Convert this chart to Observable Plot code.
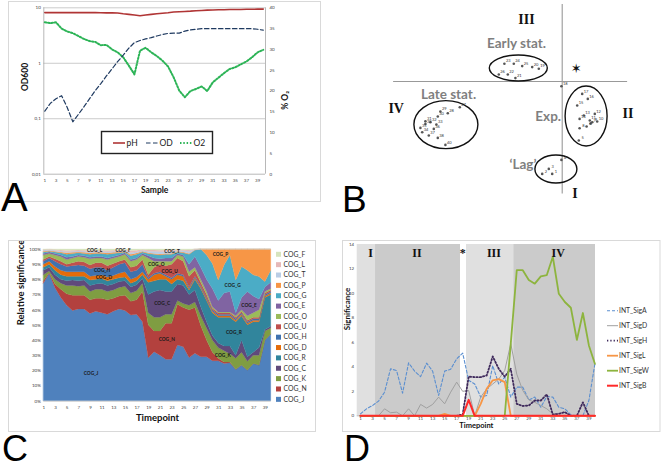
<!DOCTYPE html>
<html><head><meta charset="utf-8">
<script src="https://cdn.jsdelivr.net/npm/d3@7"></script>
<script src="https://cdn.jsdelivr.net/npm/@observablehq/plot@0.6"></script>
<style>
body{margin:0;background:#fff;}
#root{position:relative;width:661px;height:469px;overflow:hidden;background:#fff;}
#root > svg{position:absolute;}
</style></head><body><div id="root"></div>
<script>
// ---------- shared ----------
const timepoints = [1,2,3,4,5,6,7,8,9,10,11,12,13,14,15,16,17,18,19,20,21,22,23,24,25,26,27,28,29,30,31,32,33,34,35,36,37,38,39,40];
const oddTicks = [1,3,5,7,9,11,13,15,17,19,21,23,25,27,29,31,33,35,37,39];

// ---------- Panel A ----------
const phValues = [8.2,8.2,8.2,8.2,8.2,8.2,8.2,8.2,8.2,8.2,8.15,8.1,8.1,8.05,7.8,7.6,7.4,7.17,7.4,7.6,7.8,8.0,8.15,8.4,8.5,8.6,8.7,8.85,8.95,9.07,9.12,9.2,9.25,9.3,9.3,9.33,9.4,9.42,9.45,9.47];
const odValues = [0.137,0.19,0.23,0.26,0.16,0.088,0.12,0.165,0.23,0.32,0.43,0.59,0.79,1.07,1.4,1.87,2.36,2.57,2.75,2.9,3.1,3.3,3.45,3.5,3.5,3.8,4.0,4.1,4.2,4.2,4.2,4.2,4.2,4.2,4.2,4.2,4.2,4.2,4.1,3.95];
const o2Values = [36.5,36.3,36.5,35,34.3,33.9,33.2,32.5,32,31.8,31,31.1,30,29.3,28.1,26.1,24,29.7,30.4,29.3,28.4,27.3,25.9,23.3,20.1,18.5,20,20.5,21.1,20,22.1,23.2,24.3,25.3,25.7,26.4,27.1,28.1,29.3,29.9];
const odTicks = [10,1,0.1,0.01];
const odTickLabels = ["10","1","0,1","0,01"];
const o2Ticks = [0,5,10,15,20,25,30,35,40];
const aLegendNames = ["pH","OD","O2"];

// ---------- Panel B ----------
const bSampleIds = [1,2,3,4,5,6,7,8,9,10,11,12,13,14,15,16,17,18,19,20,21,22,23,24,25,26,27,28,29,30,31,32,33,34,35,36,37,38,39,40];
const bPC1 = [-0.5,-1.0,-0.67,-0.04,0.83,1.22,1.42,0.87,1.5,1.75,1.38,1.63,1.08,0.87,0.75,1.28,1.0,-0.04,-1.17,-1.5,-2.34,-2.72,-2.89,-2.42,-2.0,-3.17,-5.12,-5.72,-6.09,-6.22,-6.84,-6.59,-6.29,-7.0,-7.09,-6.42,-6.67,-6.22,-6.84,-5.84];
const bPC2 = [-4.62,-4.62,-4.37,-3.92,-2.95,-2.25,-2.1,-2.34,-2.04,-2.0,-1.95,-1.62,-1.7,-1.87,-1.2,-0.87,-0.62,-0.24,0.64,0.72,0.17,0.35,0.89,0.89,0.77,0.35,-1.29,-1.59,-1.5,-1.75,-1.99,-2.04,-2.15,-2.54,-2.32,-2.37,-2.7,-2.82,-2.12,-3.17];
const clusterNames = ["Early stat.","Late stat.","Exp.","\u2018Lag\u2019"];
const clusterCx = [-2.17,-5.79,1.22,-0.29];
const clusterCy = [0.65,-2.18,-1.75,-4.4];
const clusterRx = [1.45,1.6,1.05,1.05];
const clusterRy = [0.65,1.2,1.5,0.7];
const clusterLabelX = [-2.285,-5.685,-0.7,-1.96];
const clusterLabelY = [1.885,-0.665,-1.735,-4.165];
const phaseNumerals = ["III","IV","II","I"];
const phaseNumX = [-1.785,-8.3,3.29,0.64];
const phaseNumY = [3.1,-1.35,-1.6,-5.625];

// ---------- Panel C ----------
const cogNames = ["COG_J","COG_N","COG_K","COG_C","COG_R","COG_D","COG_H","COG_U","COG_O","COG_E","COG_G","COG_P","COG_T","COG_L","COG_F"];
const cogColors = ["#4F81BD","#B3413E","#7F9D42","#604A7B","#31859C","#E46C0A","#3F72AF","#C0504D","#9BBB59","#8064A2","#4BACC6","#F79646","#B9CDE5","#E6B9B8","#D7E4BD"];
// upper boundary (cumulative %) of each stacked layer
const topJ = [77.5,84,74.5,68,63,59.5,60.5,60.5,57.5,59,58,57,59,60.5,59.5,56.5,57,52,28.3,32.3,30,27.3,27.3,36.7,35.6,28.4,31.2,29,29,26.4,26.4,24.6,25,20.7,23.5,20.2,24.6,23.5,40,44];
const topN = [79,84.5,77,73.5,70.5,69.5,69.5,69.5,66.5,67.5,67.5,66.5,67.5,69,69.5,65.5,66.5,72,50,46,46,51,51,63.5,61.5,60,61.5,49.5,40,32,28,25.5,25.5,20.7,23.5,20.2,24.6,23.5,40,44];
const topK = [83,85.5,80,77.5,76,76,75.5,76,72,73.5,73.5,72,73,74.7,75.5,71,72.5,77.5,58,55,55,57,57,66,64,63,65,56,48,40,35,33,31,28,32,26,30,30,46,48];
const topC = [86,88,83,80,79,79.5,79,79.5,76,77,77.5,76,77,78.5,79,75,76.5,80.5,70,72,73,72,72,77,76,70,73,62,52,43,38,36,36,30,40,29,32,35,47,49];
const topR = [88,90,86,83,82,82,82,82,79.5,80,80.5,79,80,81,81.5,77.5,79,83,78,79,80,80,77,80,79,73,80,74,66,58,55,55,55,52,56,50,52,52,68,70];
const topD = [90,92,88.5,86,85,85,85,85,82,82.5,83,81.5,82.5,84,85,80,81.5,85,80,83,84,82,80,83,82,74,81,75,67,59,56,56,56,53,57,51,53,53,69,71];
const topH = [92,94,92,90,88.5,89,89.5,89,87,88,88,86,88,90,91,85,86,90,81,84,85,83,81,84,83,75,82,76,68,60,57,57,57,54,58,52,54,54,70,72];
const topU = [93,95,93.5,92,90,91,92,91.5,89.5,91,91,89,90.5,92,93,88,89,93,83,88,90,89,90,94,92,82,86,78,70,61,58,58,58,55,59,53,55,55,71,73];
const topO = [96,97,96,95,93,94,95,94.5,93.5,94,94,93,94,95,96.5,92,93,96,94,92,92,92,92,96,95,85,88,80,72,62,58.5,58.5,58.5,56,60,56,58,60,72,74];
const topE = [97,98,97,96,94.5,95,96,95.5,94.5,95,95,94,95,96,97.5,93,94,97,95.5,94,93.5,94,94,97,96,90,95,88,80,74,66,71,72,58,68,72,69,67,75,78];
const topG = [98,98.5,98,97.5,96.5,97,97.5,97,96.5,97,97,96.5,97,97.5,98,95.5,96.5,98,97,96.5,96,96.5,96.5,98,97.5,96.5,99.3,100,96,90.5,79.6,89.5,96,79.6,88.4,86,83,81.8,78.5,86];
const topP = [98.5,99,98.5,98,97.5,97.8,98,97.8,97.3,97.8,97.8,97.3,97.8,98,98.5,96.5,97.3,98.5,97.5,97,96.7,97,97,98.5,98,97,99.5,100,100,100,100,100,100,100,100,100,100,100,100,100];
const topT = [99.2,99.5,99.2,98.7,98.2,98.5,98.7,98.5,98.2,98.5,98.5,98.2,98.5,98.7,99.2,97.7,98.2,99.2,98.5,98.5,98.3,98.5,98.5,99.2,99,98.5,99.8,100,100,100,100,100,100,100,100,100,100,100,100,100];
const topL = [99.6,99.8,99.6,99.4,99,99.2,99.3,99.2,99,99.2,99.2,99,99.2,99.4,99.6,99,99.2,99.6,99.3,99.3,99.2,99.3,99.3,99.6,99.5,99.3,100,100,100,100,100,100,100,100,100,100,100,100,100,100];
const topF = [100,100,100,100,100,100,100,100,100,100,100,100,100,100,100,100,100,100,100,100,100,100,100,100,100,100,100,100,100,100,100,100,100,100,100,100,100,100,100,100];
const percentTicks = [0,10,20,30,40,50,60,70,80,90,100];
const cogLabelNames = ["COG_L","COG_F","COG_T","COG_P","COG_O","COG_U","COG_H","COG_D","COG_G","COG_C","COG_E","COG_R","COG_N","COG_K","COG_J"];
const cogLabelT = [9.7,14.6,23.0,31.3,20.3,22.6,11.0,11.3,33.4,21.3,36.2,33.6,22.1,31.7,9.1];
const cogLabelV = [99.3,99.3,98.9,96.6,90.4,85.6,86.3,81.7,76.3,64.2,63.0,45.5,40.7,29.9,18.0];
const cogLegendOrder = ["COG_F","COG_L","COG_T","COG_P","COG_G","COG_E","COG_O","COG_U","COG_H","COG_D","COG_R","COG_C","COG_K","COG_N","COG_J"];

// ---------- Panel D ----------
const sigNames = ["INT_SigA","INT_SigD","INT_SigH","INT_SigL","INT_SigW","INT_SigB"];
const sigA = [0.16,0.57,0.84,1.2,1.93,3.84,3.7,1.85,4.33,3.65,3.2,4.3,3.65,1.66,3.65,3.8,4.66,5.12,2.9,2.6,1.53,1.66,4.1,2.6,3.16,1.53,2.34,2.34,1.3,1.53,0.7,1.58,1.53,0.7,0.57,0.08,0,0,1.25,4.25];
const sigD = [0,0,0,0,0.57,0.25,0.3,0,0.57,0,0.93,0.63,0.93,1.53,0.98,1.93,2.75,2.0,2.07,0,1.53,2.2,2.6,3.0,3.7,5.9,3.4,2.07,1.3,1.1,0.84,0.57,0.16,0.2,0.3,0,0,0,0,0];
const sigH = [0,0,0,0,0,0,0,0,0,0,0,0,0,0,0,0,0,0.1,3.2,3.16,3.16,3.3,4.85,3.84,3.2,3.84,0.98,0.8,0.84,1.25,1.25,1.75,0.1,0.16,0.3,0,0,1.1,0,0];
const sigL = [0,0,0,0,0,0,0,0,0,0,0,0,0,0,0.15,0,0,0,0,0,0.98,2.2,2.9,3.0,2.75,0,0,0,0,0,0,0,0,0,0,0,0,0,0,0];
const sigW = [0,0,0,0,0,0,0,0,0,0,0,0,0,0,0,0,0,0,0,0,0,0,0,0,0,5.9,11.9,11.9,11.1,10.8,11.4,11.5,13.0,9.97,9.3,8.83,6.2,8.4,5.75,4.25];
const sigB = [0,0,0,0,0,0,0,0,0,0,0,0,0,0,0,0,0,0,1.3,0,0,0,0,0,0,0,0,0,0,0,0,0,0,0,0,0,0,0,0,0];
const sigColors = ["#5B8FD0","#A0A0A0","#3F2A5C","#F79646","#8DB43E","#FF2A2A"];
const sigDash = ["3,2",null,"1.3,2",null,null,null];
const sigWidth = [1.1,1,1.8,1.8,1.8,2];
const phaseLabels = ["I","II","*","III","IV"];
const phaseLabelT = [2.66,10.4,18.0,23.2,33.9];
const phaseStart = [0.45,3.5,18.64,26.5];
const phaseEnd = [3.5,17.64,26.5,40.1];
const phaseShade = ["light","dark","light","dark"];
const sigTicks = [0,2,4,6,8,10,12,14];

const FONT = "Lato, 'Liberation Sans', sans-serif";
const root = document.getElementById("root");
const tf = (v) => String(v);

// ====== Panel A ======
const aRows = timepoints.map((t,i)=>({t, ph: phValues[i], od: odValues[i], o2: o2Values[i]}));
const o2ToY = (v) => Math.pow(10, -2 + 3*v/40);
const plotA = Plot.plot({
  width:330, height:230, marginLeft:43.3, marginRight:65, marginTop:7.3, marginBottom:56.3,
  x:{domain:[0.82,40.4], axis:null},
  y:{type:"log", domain:[0.01,10], axis:null},
  style:{background:"transparent", overflow:"visible", fontFamily:FONT},
  marks:[
    Plot.ruleY([10,1,0.1], {stroke:"#BFBFBF", strokeWidth:0.8}),
    Plot.ruleY([0.01], {stroke:"#A6A6A6", strokeWidth:0.8}),
    Plot.ruleX([0.82,40.4], {stroke:"#A6A6A6", strokeWidth:0.8}),
    Plot.text(odTicks, {y:d=>d, frameAnchor:"left", dx:-3, textAnchor:"end", text:(d,i)=>odTickLabels[i], fontSize:4.5, fill:"#404040"}),
    Plot.text(o2Ticks, {y:o2ToY, frameAnchor:"right", dx:4, textAnchor:"start", text:tf, fontSize:4.5, fill:"#404040"}),
    Plot.text(oddTicks, {x:d=>d, frameAnchor:"bottom", dy:7.5, text:tf, fontSize:4.5, fill:"#404040"}),
    Plot.text(["OD600"], {frameAnchor:"left", dx:-19, rotate:-90, fontSize:8.5, fontWeight:"bold", fill:"#111"}),
    Plot.text(["% O\u2082"], {frameAnchor:"right", dx:20, rotate:-90, fontSize:8.5, fontWeight:"bold", fill:"#111"}),
    Plot.text(["Sample"], {frameAnchor:"bottom", dy:18.5, fontSize:8.5, fontWeight:"bold", fill:"#111"}),
    Plot.line(aRows, {x:"t", y:d=>o2ToY(d.o2), stroke:"#2DB457", strokeWidth:2, strokeDasharray:"1.5,1.8"}),
    Plot.line(aRows, {x:"t", y:"od", stroke:"#1F3A60", strokeWidth:1.2, strokeDasharray:"4.5,2.5"}),
    Plot.line(aRows, {x:"t", y:"ph", stroke:"#B03535", strokeWidth:1.6})
  ]
});
plotA.style.left = "0px"; plotA.style.top = "0px";

// ====== Panel B ======
const bPoints = bSampleIds.map((id,i)=>({id, pc1:bPC1[i], pc2:bPC2[i]}));
const clusters = clusterNames.map((name,i)=>({name, cx:clusterCx[i], cy:clusterCy[i], rx:clusterRx[i], ry:clusterRy[i], lx:clusterLabelX[i], ly:clusterLabelY[i]}));
const numerals = phaseNumerals.map((n,i)=>({n, x:phaseNumX[i], y:phaseNumY[i]}));
const ellipseMark = (index, scales) => {
  const g = d3.create("svg:g");
  for (const e of clusters) {
    g.append("ellipse")
      .attr("cx", scales.x(e.cx)).attr("cy", scales.y(e.cy))
      .attr("rx", Math.abs(scales.x(e.cx+e.rx)-scales.x(e.cx)))
      .attr("ry", Math.abs(scales.y(e.cy+e.ry)-scales.y(e.cy)))
      .attr("fill","none").attr("stroke","#111").attr("stroke-width",1.4);
  }
  return g.node();
};
const plotB = Plot.plot({
  width:331, height:230, margin:0,
  x:{domain:[-11.585,4.965], axis:null},
  y:{domain:[-7.45,4.05], axis:null},
  style:{background:"transparent", overflow:"visible", fontFamily:FONT},
  marks:[
    Plot.ruleX([0], {y1:3.85, y2:-5.62, stroke:"#999", strokeWidth:1.1}),
    Plot.ruleY([0], {x1:-8.43, x2:3.27, stroke:"#999", strokeWidth:1.1}),
    ellipseMark,
    Plot.dot(bPoints, {x:"pc1", y:"pc2", r:1.3, fill:"#555"}),
    Plot.text(bPoints, {x:"pc1", y:"pc2", text:d=>String(d.id), dx:3.8, dy:-2.5, fontSize:4, fill:"#333"}),
    Plot.text(clusters, {x:"lx", y:"ly", text:"name", fontSize:13.5, fontWeight:"bold", fill:"#7F7F7F", fontFamily:"Lato"}),
    Plot.text(numerals, {x:"x", y:"y", text:"n", fontSize:14, fontWeight:"bold", fill:"#111", fontFamily:"'Liberation Serif', serif"}),
    Plot.text(["\u2736"], {x:0.7, y:0.635, fontSize:13, fill:"#111", fontFamily:"'DejaVu Sans'"})
  ]
});
plotB.style.left = "330px"; plotB.style.top = "0px";

// ====== Panel C ======
const cogTops = [topJ,topN,topK,topC,topR,topD,topH,topU,topO,topE,topG,topP,topT,topL,topF];
const cRows = [];
cogNames.forEach((name,k)=>{
  timepoints.forEach((t,i)=>{
    cRows.push({name, t, y1: k===0 ? 0 : cogTops[k-1][i], y2: cogTops[k][i]});
  });
});
const cLabels = cogLabelNames.map((n,i)=>({n, t:cogLabelT[i], v:cogLabelV[i]}));
const plotC = Plot.plot({
  width:330, height:239, marginLeft:43.3, marginRight:59.3, marginTop:19, marginBottom:68.3,
  x:{domain:[1,40], axis:null},
  y:{domain:[0,100], axis:null},
  color:{domain:cogNames, range:cogColors},
  style:{background:"transparent", overflow:"visible", fontFamily:FONT},
  marks:[
    Plot.area(cRows, {x1:"t", y1:"y1", y2:"y2", fill:"name", z:"name", stroke:"name", strokeWidth:0.3}),
    Plot.ruleY([0], {stroke:"#BFBFBF", strokeWidth:0.8}),
    Plot.text(percentTicks, {y:d=>d, frameAnchor:"left", dx:-3, textAnchor:"end", text:d=>d+"%", fontSize:4.5, fill:"#404040"}),
    Plot.text(oddTicks, {x:d=>d, frameAnchor:"bottom", dy:8, text:tf, fontSize:4.5, fill:"#404040"}),
    Plot.text(cLabels, {x:"t", y:"v", text:"n", fontSize:4.8, fontWeight:"bold", fill:"#1a1a1a"}),
    Plot.text(["Relative significance"], {frameAnchor:"left", dx:-23.3, rotate:-90, fontSize:9.5, fontWeight:"bold", fill:"#111"}),
    Plot.text(["Timepoint"], {frameAnchor:"bottom", dy:20, fontSize:9.5, fontWeight:"bold", fill:"#111"})
  ]
});
plotC.style.left = "0px"; plotC.style.top = "230px";

// ====== Panel D ======
const sigSeries = [sigA,sigD,sigH,sigL,sigW,sigB];
const phases = phaseStart.map((s,i)=>({s, e:phaseEnd[i], shade:phaseShade[i]}));
const dLabels = phaseLabels.map((l,i)=>({l, t:phaseLabelT[i]}));
const dLines = sigSeries.map((vals,k)=>Plot.line(timepoints.map((t,i)=>({t, v:vals[i]})), {
  x:"t", y:"v", stroke:sigColors[k], strokeWidth:sigWidth[k], strokeDasharray:sigDash[k] || undefined, strokeLinejoin:"round"
}));
const plotD = Plot.plot({
  width:331, height:239, marginLeft:26.7, marginRight:66, marginTop:14, marginBottom:53.7,
  x:{domain:[0.45,40.1], axis:null},
  y:{domain:[0,14], axis:null},
  style:{background:"transparent", overflow:"visible", fontFamily:FONT},
  marks:[
    Plot.rect(phases.filter(p=>p.shade==="light"), {x1:"s", x2:"e", y1:0, y2:14, fill:"#E0E0E0"}),
    Plot.rect(phases.filter(p=>p.shade==="dark"), {x1:"s", x2:"e", y1:0, y2:14, fill:"#CBCBCB"}),
    Plot.ruleY([0], {stroke:"#A6A6A6", strokeWidth:0.8}),
    Plot.text(sigTicks, {y:d=>d, frameAnchor:"left", dx:-3, textAnchor:"end", text:tf, fontSize:4.5, fill:"#404040"}),
    Plot.text(oddTicks, {x:d=>d, frameAnchor:"bottom", dy:4, text:tf, fontSize:4.5, fill:"#404040"}),
    ...dLines,
    Plot.text(dLabels, {x:"t", y:13.3, text:"l", fontSize:12, fontWeight:"bold", fill:"#111", fontFamily:"'Liberation Serif', serif"}),
    Plot.text(["Significance"], {frameAnchor:"left", dx:-10, rotate:-90, fontSize:8, fontWeight:"bold", fill:"#111"}),
    Plot.text(["Timepoint"], {frameAnchor:"bottom", dy:12.5, fontSize:7.5, fontWeight:"bold", fill:"#111"})
  ]
});
plotD.style.left = "330px"; plotD.style.top = "230px";

// ====== overlay: boxes, legends, panel letters ======
const ov = d3.create("svg").attr("width",661).attr("height",469).style("left","0px").style("top","0px");
ov.append("rect").attr("x",8.5).attr("y",1.5).attr("width",312).attr("height",200).attr("fill","none").attr("stroke","#D9D9D9");
ov.append("rect").attr("x",8.5).attr("y",240.5).attr("width",307).attr("height",191).attr("fill","none").attr("stroke","#D9D9D9");
ov.append("rect").attr("x",342.5).attr("y",240.5).attr("width",317.5).attr("height",191).attr("fill","none").attr("stroke","#D9D9D9");

// legend A
const lgA = ov.append("g");
lgA.append("rect").attr("x",101.5).attr("y",131.5).attr("width",111).attr("height",22).attr("fill","#fff").attr("stroke","#222").attr("stroke-width",1.4);
const aStyles = [{c:"#B03535", w:1.6, d:null},{c:"#1F3A60", w:1.2, d:"4.5,2.5"},{c:"#2DB457", w:2, d:"1.5,1.8"}];
const aLegX = [113,146,180];
aLegendNames.forEach((n,i)=>{
  const s = aStyles[i];
  const ln = lgA.append("line").attr("x1",aLegX[i]).attr("x2",aLegX[i]+12).attr("y1",143).attr("y2",143).attr("stroke",s.c).attr("stroke-width",s.w);
  if (s.d) ln.attr("stroke-dasharray", s.d);
  lgA.append("text").attr("x",aLegX[i]+13.5).attr("y",146).attr("font-size",8.5).attr("font-family",FONT).attr("fill","#222").text(n);
});

// legend C
cogLegendOrder.forEach((n,i)=>{
  const y = 254.3 + i*10.36;
  ov.append("rect").attr("x",276).attr("y",y-2.5).attr("width",5).attr("height",5).attr("fill",cogColors[cogNames.indexOf(n)]);
  ov.append("text").attr("x",283.5).attr("y",y+2.3).attr("font-size",6.8).attr("font-family",FONT).attr("fill","#333").text(n);
});

// legend D
sigNames.forEach((n,i)=>{
  const y = 310.7 + i*15;
  const ln = ov.append("line").attr("x1",607).attr("x2",618).attr("y1",y).attr("y2",y).attr("stroke",sigColors[i]).attr("stroke-width",sigWidth[i]);
  if (sigDash[i]) ln.attr("stroke-dasharray", sigDash[i]);
  ov.append("text").attr("x",619).attr("y",y+2.4).attr("font-size",6.8).attr("font-family",FONT).attr("fill","#333").text(n);
});

// panel letters
[["A",1,211,40],["B",342,212,37],["C",2,461,36],["D",344,461,36]].forEach(([l,x,y,s])=>{
  ov.append("text").attr("x",x).attr("y",y).attr("font-size",s).attr("font-family","'Liberation Sans', Arial, sans-serif").attr("fill","#000").text(l);
});

root.append(plotA, plotB, plotC, plotD, ov.node());
</script></body></html>
